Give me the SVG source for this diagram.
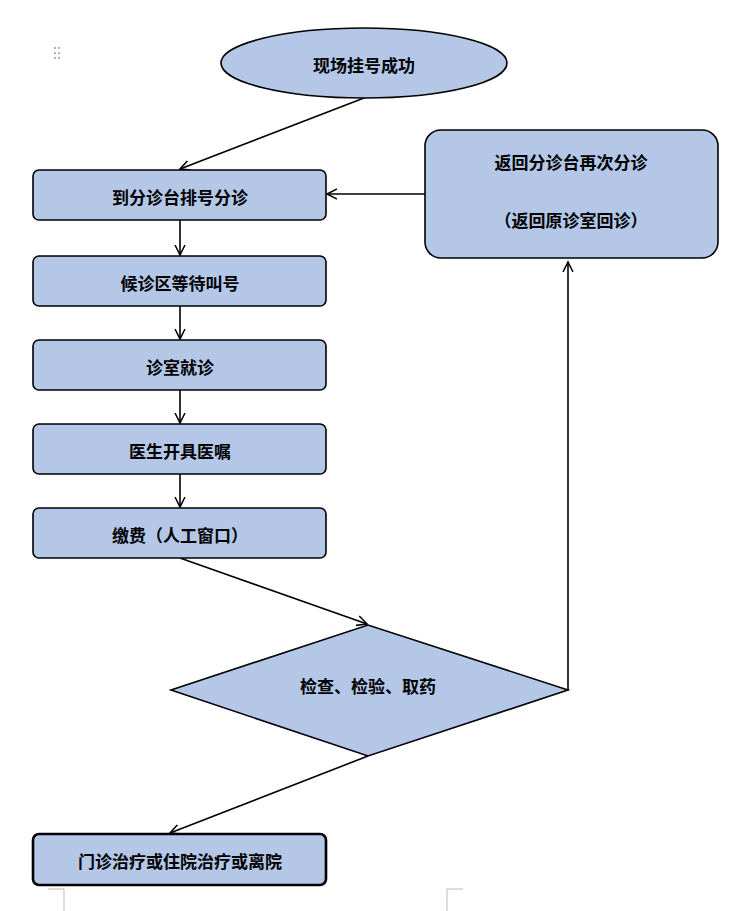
<svg xmlns="http://www.w3.org/2000/svg" width="756" height="911" viewBox="0 0 756 911">
<defs>
<style>
.n{fill:#b4c7e7;stroke:#000;stroke-width:1.6}
.t{font-family:"Noto Sans CJK SC",sans-serif;font-size:17px;font-weight:bold;fill:#000;text-anchor:middle;dominant-baseline:central}
.c{fill:none;stroke:#000;stroke-width:1.6;marker-end:url(#a)}
.g{stroke:#bbb;stroke-width:1;fill:none}
</style>
<marker id="a" markerWidth="12" markerHeight="12" refX="10" refY="5" orient="auto" markerUnits="userSpaceOnUse" viewBox="0 0 12 10"><path d="M0,0 L10,5 L0,10" fill="none" stroke="#000" stroke-width="1.5"/></marker>
</defs>
<rect width="756" height="911" fill="#fff"/>
<g fill="#999"><circle cx="55" cy="48" r="1"/><circle cx="59" cy="48" r="1"/><circle cx="55" cy="53" r="1"/><circle cx="59" cy="53" r="1"/><circle cx="55" cy="58" r="1"/><circle cx="59" cy="58" r="1"/></g>
<path class="g" d="M48,889H64V911M463,889H447V911"/>
<g id="connectors">
<path class="c" d="M364,98L180,169"/>
<path class="c" d="M180,220V255"/>
<path class="c" d="M180,306V339"/>
<path class="c" d="M180,390V423"/>
<path class="c" d="M180,474V507"/>
<path class="c" d="M180,558L367,624"/>
<path class="c" d="M368,756L170,833"/>
<path class="c" d="M568,690V262"/>
<path class="c" d="M425,194H327"/>
</g>
<g id="start"><ellipse class="n" cx="364" cy="63" rx="143" ry="35"/><text class="t" x="364" y="64">现场挂号成功</text></g>
<g id="n1"><rect class="n" x="33" y="170" width="293" height="50" rx="6"/><text class="t" x="180" y="196">到分诊台排号分诊</text></g>
<g id="n2"><rect class="n" x="33" y="256" width="293" height="50" rx="6"/><text class="t" x="180" y="282">候诊区等待叫号</text></g>
<g id="n3"><rect class="n" x="33" y="340" width="293" height="50" rx="6"/><text class="t" x="180" y="366">诊室就诊</text></g>
<g id="n4"><rect class="n" x="33" y="424" width="293" height="50" rx="6"/><text class="t" x="180" y="450">医生开具医嘱</text></g>
<g id="n5"><rect class="n" x="33" y="508" width="293" height="50" rx="6"/><text class="t" x="180" y="534">缴费（人工窗口）</text></g>
<g id="d"><polygon class="n" points="171,690 368,625 568,690 368,756"/><text class="t" x="368" y="685">检查、检验、取药</text></g>
<g id="r"><rect class="n" x="425" y="130" width="293" height="128" rx="16"/><text class="t" x="571" y="161">返回分诊台再次分诊</text><text class="t" x="571" y="219">（返回原诊室回诊）</text></g>
<g id="end"><rect class="n" x="33" y="834" width="293" height="51" rx="6" style="stroke-width:2.6"/><text class="t" x="180" y="860">门诊治疗或住院治疗或离院</text></g>
</svg>
